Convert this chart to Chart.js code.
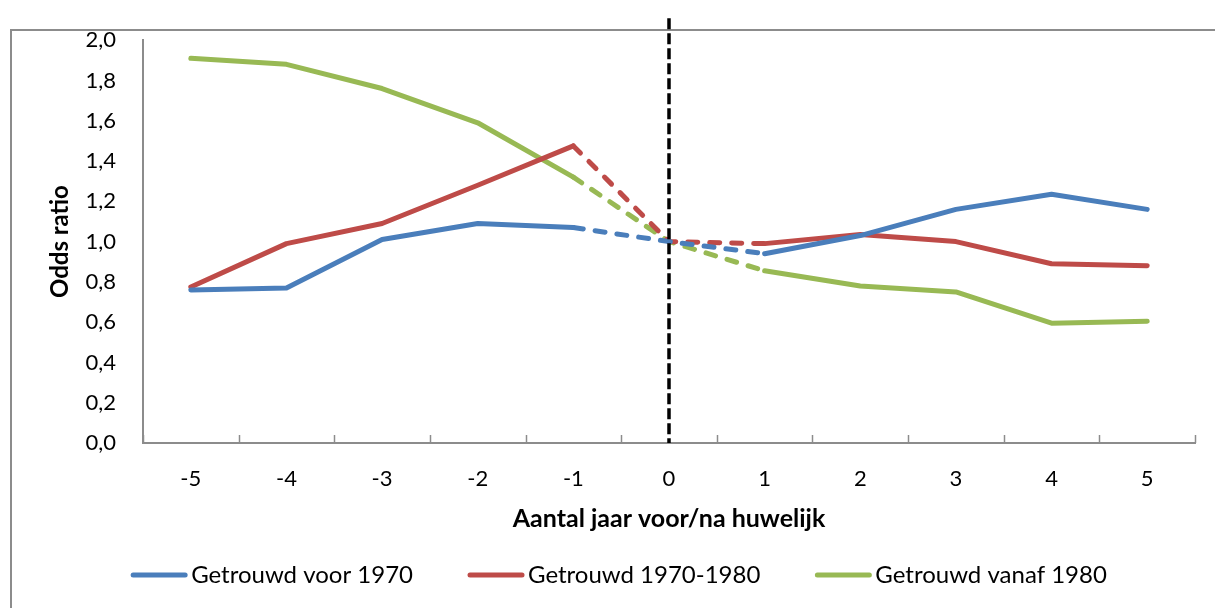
<!DOCTYPE html>
<html>
<head>
<meta charset="utf-8">
<script src="https://cdn.jsdelivr.net/npm/chart.js@4/dist/chart.umd.min.js"></script>
<style>
  html, body { margin: 0; padding: 0; background: #fff; overflow: hidden; }
  #frame { position: absolute; left: 10px; top: 29px; width: 1300px; height: 700px; border-left: 2px solid #8c8c8c; border-top: 2px solid #8c8c8c; }
  #wrap { position: absolute; left: 0; top: 0; width: 1215px; height: 608px; }
</style>
</head>
<body>
<div id="frame"></div>
<div id="wrap"><canvas id="c" width="1215" height="608"></canvas></div>
<script>
const categories = ['-5', '-4', '-3', '-2', '-1', '0', '1', '2', '3', '4', '5'];
const seriesNames = ['Getrouwd voor 1970', 'Getrouwd 1970-1980', 'Getrouwd vanaf 1980'];
const voor1970 = [0.76, 0.77, 1.01, 1.09, 1.07, 1.00, 0.94, 1.03, 1.16, 1.235, 1.16];
const tussen1970_1980 = [0.775, 0.99, 1.09, 1.28, 1.475, 1.00, 0.99, 1.035, 1.00, 0.89, 0.88];
const vanaf1980 = [1.91, 1.88, 1.76, 1.59, 1.32, 1.00, 0.855, 0.78, 0.75, 0.595, 0.605];
const colors = ['#4A7EBB', '#BE4B48', '#98B954'];
const markerCategory = '0';
const yMin = 0, yMax = 2, yStep = 0.2;

const FONT = 'Lato, "Liberation Sans", sans-serif';

const dashedIdx = [4, 5]; // segments -1→0 and 0→1
function makeDataset(label, data, color) {
  return {
    label, data,
    borderColor: color, backgroundColor: color,
    borderWidth: 5, pointRadius: 0, pointHoverRadius: 0,
    borderCapStyle: 'round', borderJoinStyle: 'round',
    tension: 0, fill: false,
    segment: {
      borderDash: ctx => dashedIdx.includes(ctx.p0DataIndex) ? [10, 12] : undefined
    }
  };
}

const extras = {
  id: 'extras',
  afterDatasetsDraw(chart) {
    const {ctx, chartArea, scales: {x}} = chart;
    ctx.save();
    ctx.strokeStyle = '#8c8c8c';
    ctx.lineWidth = 1.5;
    for (let i = 0; i <= categories.length; i++) {
      const px = Math.round(x.getPixelForValue(i - 0.5)) + 0.5;
      ctx.beginPath();
      ctx.moveTo(px, chartArea.bottom);
      ctx.lineTo(px, chartArea.bottom - 8);
      ctx.stroke();
    }
    const mx = x.getPixelForValue(categories.indexOf(markerCategory));
    ctx.strokeStyle = '#000';
    ctx.lineWidth = 3.5;
    ctx.setLineDash([11, 4]);
    ctx.beginPath();
    ctx.moveTo(mx, chartArea.top - 22);
    ctx.lineTo(mx, chartArea.bottom);
    ctx.stroke();
    ctx.restore();
  },
  afterDraw(chart) {
    const {ctx} = chart;
    ctx.save();
    ctx.font = '24px ' + FONT;
    ctx.textBaseline = 'middle';
    const lineLen = 56, gapText = 4, gapItem = 55;
    const items = chart.data.datasets.map(d => ({label: d.label, color: d.borderColor, w: ctx.measureText(d.label).width}));
    let total = 0;
    items.forEach((it, i) => { total += lineLen + gapText + it.w + (i < items.length - 1 ? gapItem : 0); });
    let cx = 619 - total / 2;
    const cy = 575;
    items.forEach(it => {
      ctx.strokeStyle = it.color;
      ctx.lineWidth = 5;
      ctx.lineCap = 'round';
      ctx.beginPath();
      ctx.moveTo(cx + 2, cy);
      ctx.lineTo(cx + lineLen - 2, cy);
      ctx.stroke();
      ctx.fillStyle = '#000';
      ctx.textAlign = 'left';
      ctx.fillText(it.label, cx + lineLen + gapText, cy);
      cx += lineLen + gapText + it.w + gapItem;
    });
    ctx.restore();
  }
};

new Chart(document.getElementById('c'), {
  type: 'line',
  data: {
    labels: categories,
    datasets: [
      makeDataset(seriesNames[0], voor1970, colors[0]),
      makeDataset(seriesNames[1], tussen1970_1980, colors[1]),
      makeDataset(seriesNames[2], vanaf1980, colors[2])
    ]
  },
  options: {
    responsive: false,
    animation: false,
    devicePixelRatio: 1,
    layout: { padding: { left: 0, right: 20, top: 40, bottom: 73 } },
    plugins: { legend: { display: false }, tooltip: { enabled: false } },
    scales: {
      x: {
        type: 'category',
        offset: true,
        grid: { display: true, drawOnChartArea: false, drawTicks: false, color: 'rgba(0,0,0,0)' },
        border: { display: true, color: '#8c8c8c', width: 2 },
        ticks: { color: '#000', font: { family: FONT, size: 22 }, padding: 23, maxRotation: 0 },
        title: { display: true, text: 'Aantal jaar voor/na huwelijk', color: '#000', font: { family: FONT, size: 25, weight: 'bold' }, padding: { top: 0, bottom: 1 } },
        afterFit: s => { s.height = 92; }
      },
      y: {
        min: yMin, max: yMax,
        grid: { display: false, drawTicks: false },
        border: { display: true, color: '#8c8c8c', width: 2 },
        ticks: {
          stepSize: yStep, color: '#000', font: { family: FONT, size: 22 }, padding: 27,
          callback: v => Number(v).toFixed(1).replace('.', ',')
        },
        title: { display: true, text: 'Odds ratio', color: '#000', font: { family: FONT, size: 24, weight: 'bold' }, padding: { top: 46, bottom: 0 } },
        afterFit: s => { s.width = 143; }
      }
    }
  },
  plugins: [extras]
});
</script>
</body>
</html>
